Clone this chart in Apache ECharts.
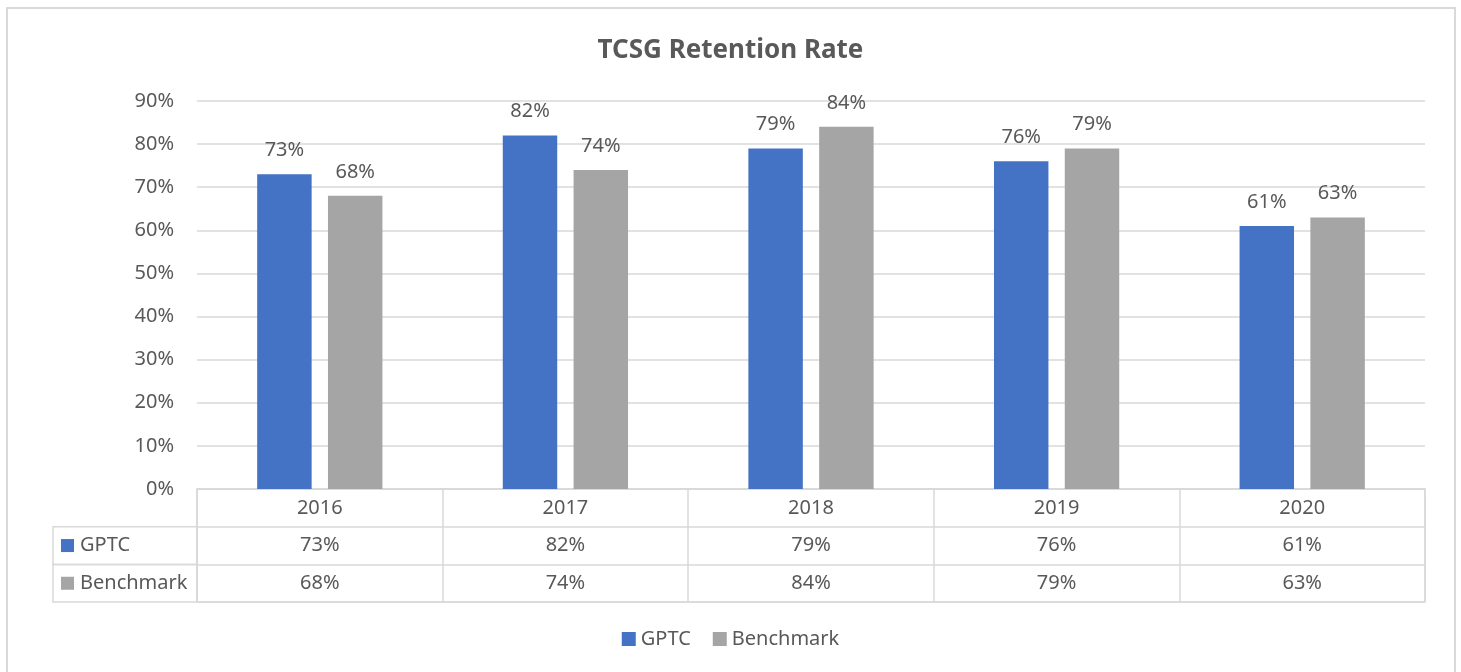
<!DOCTYPE html>
<html>
<head>
<meta charset="utf-8">
<script src="https://cdn.jsdelivr.net/npm/echarts@6/dist/echarts.min.js"></script>
<style>
  body { margin: 0; background: #fff; }
  #chart { width: 1461px; height: 672px; }
</style>
</head>
<body>
<div id="chart"></div>
<script>
// data
const years = ["2016", "2017", "2018", "2019", "2020"];
const gptc = [73, 82, 79, 76, 61];
const benchmark = [68, 74, 84, 79, 63];
const seriesNames = ["GPTC", "Benchmark"];

// layout
const plotLeft = 197, plotRight = 36, plotTop = 101, plotBottomY = 489;
const rowH = 37.7;
const tableLeft = 53;
const textColor = "#595959";
const lineColor = "#d9d9d9";
const colors = ["#4472C4", "#A5A5A5"];
const font = "'Noto Sans', 'Open Sans', sans-serif";

const myChart = echarts.init(document.getElementById("chart"));

// left header column of the data table
function tableHeaderCells() {
  const els = [];
  seriesNames.forEach(function (name, i) {
    const y = plotBottomY + rowH * (i + 1);
    els.push({
      type: "rect",
      shape: { x: tableLeft, y: y, width: plotLeft - tableLeft, height: rowH },
      style: { fill: "none", stroke: lineColor, lineWidth: 1.5 }
    });
    els.push({
      type: "rect",
      shape: { x: tableLeft + 8, y: y + rowH / 2 - 6.5, width: 13, height: 13 },
      style: { fill: colors[i] }
    });
    els.push({
      type: "text",
      x: tableLeft + 27,
      y: y + rowH / 2,
      style: { text: name, fill: textColor, font: "20px " + font, verticalAlign: "middle" }
    });
  });
  return els;
}

const option = {
  textStyle: { fontFamily: font },
  title: {
    text: "TCSG Retention Rate",
    left: "center",
    top: 33,
    textStyle: { fontSize: 26, fontWeight: "bold", color: textColor, fontFamily: font }
  },
  legend: {
    data: seriesNames,
    bottom: 18,
    left: "center",
    icon: "rect",
    itemWidth: 14,
    itemHeight: 14,
    itemGap: 22,
    textStyle: { fontSize: 20, color: textColor }
  },
  grid: [
    { left: plotLeft, right: plotRight, top: plotTop, bottom: 672 - plotBottomY },
    {
      left: plotLeft, right: plotRight, top: plotBottomY, height: rowH * 3,
      show: true, borderColor: lineColor, borderWidth: 1.5
    }
  ],
  xAxis: [
    {
      type: "category",
      data: years,
      gridIndex: 0,
      axisLine: { show: false },
      axisTick: { show: false },
      axisLabel: {
        margin: 0,
        interval: 0,
        formatter: function (v, idx) {
          return "{y|" + v + "}\n{v|" + gptc[idx] + "%}\n{v|" + benchmark[idx] + "%}";
        },
        rich: {
          y: { fontSize: 20, color: textColor, lineHeight: rowH },
          v: { fontSize: 20, color: textColor, lineHeight: rowH }
        }
      }
    },
    {
      type: "category",
      data: years,
      gridIndex: 1,
      axisLine: { show: false },
      axisTick: { show: false },
      axisLabel: { show: false },
      splitLine: { show: true, lineStyle: { color: lineColor, width: 1.5 } }
    }
  ],
  yAxis: [
    {
      type: "value",
      gridIndex: 0,
      min: 0,
      max: 90,
      interval: 10,
      axisLine: { show: false },
      axisTick: { show: false },
      axisLabel: { formatter: "{value}%", fontSize: 20, color: textColor, margin: 23 },
      splitLine: { lineStyle: { color: lineColor, width: 1.5 } }
    },
    {
      type: "value",
      gridIndex: 1,
      min: 0,
      max: 3,
      interval: 1,
      axisLine: { show: false },
      axisTick: { show: false },
      axisLabel: { show: false },
      splitLine: { lineStyle: { color: lineColor, width: 1.5 } }
    }
  ],
  series: [
    {
      name: seriesNames[0],
      type: "bar",
      data: gptc,
      itemStyle: { color: colors[0] },
      barGap: "30%",
      barCategoryGap: "49%",
      label: { show: true, position: "top", distance: 14, formatter: "{c}%", fontSize: 20, color: textColor }
    },
    {
      name: seriesNames[1],
      type: "bar",
      data: benchmark,
      itemStyle: { color: colors[1] },
      barGap: "30%",
      barCategoryGap: "49%",
      label: { show: true, position: "top", distance: 14, formatter: "{c}%", fontSize: 20, color: textColor }
    }
  ],
  graphic: [
    {
      type: "rect",
      shape: { x: 7, y: 8, width: 1448, height: 700 },
      style: { fill: "none", stroke: lineColor, lineWidth: 2 },
      silent: true
    }
  ].concat(tableHeaderCells())
};

myChart.setOption(option, true);
window.addEventListener("resize", function () {
  myChart.resize();
});
</script>
</body>
</html>
